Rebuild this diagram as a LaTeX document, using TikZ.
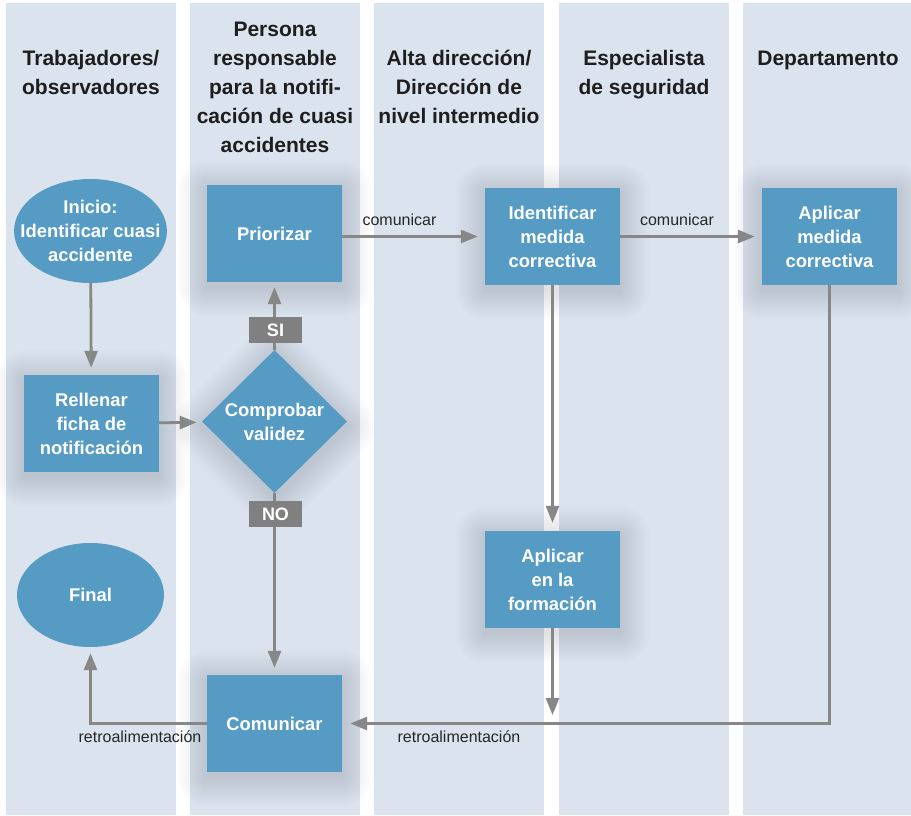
\documentclass[tikz,border=0pt]{standalone}
\usepackage{fontspec}
\setmainfont{Liberation Sans}
\usetikzlibrary{shapes.geometric,arrows.meta}
\definecolor{lanebg}{RGB}{219,228,238}
\definecolor{boxblue}{RGB}{85,155,196}
\definecolor{arrgray}{RGB}{135,135,135}
\definecolor{lblgray}{RGB}{128,128,128}
\definecolor{headtxt}{RGB}{30,30,30}
\pgfdeclarelayer{bg}
\pgfdeclarelayer{shadowlayer}
\pgfsetlayers{bg,shadowlayer,main}
\tikzset{
  lane/.style={fill=lanebg, draw=none},
  header/.style={anchor=north, inner sep=0pt, align=center, text=headtxt,
    font=\fontsize{21}{29}\selectfont\bfseries},
  shadowstep/.style={fill=black!80!blue, opacity=0.0045, draw=none},
  stepbox/.style={rectangle, fill=boxblue, text=white, minimum width=135pt,
    minimum height=97pt, inner sep=0pt, align=center,
    font=\fontsize{18.4}{24}\selectfont\bfseries},
  oval/.style={ellipse, fill=boxblue, text=white, minimum width=147pt,
    minimum height=104pt, inner xsep=-16pt, inner ysep=0pt, align=center,
    font=\fontsize{18.4}{24}\selectfont\bfseries},
  decision/.style={diamond, aspect=1, fill=boxblue, text=white, minimum width=145pt,
    minimum height=143pt, inner sep=0pt, align=center,
    font=\fontsize{18.4}{24}\selectfont\bfseries},
  answer/.style={rectangle, fill=lblgray, text=white, minimum width=53pt,
    minimum height=26pt, inner sep=0pt, font=\fontsize{18}{20}\selectfont\bfseries},
  flow/.style={draw=arrgray, line width=2.8pt, -{Triangle[length=17pt,width=13pt]},
    shorten >=7pt},
  flowlabel/.style={anchor=base, inner sep=0pt, text=black!85,
    font=\fontsize{16}{18}\selectfont},
}
\newcommand{\myboxshadow}[1]{%
  \begin{pgfonlayer}{shadowlayer}
  \foreach \r in {1,2,...,30}{
    \fill[shadowstep, rounded corners=\r pt]
      ([shift={(-\r,-\r+5)}]#1.north west) rectangle ([shift={(\r,\r+5)}]#1.south east);
  }
  \end{pgfonlayer}}
\newcommand{\mydiamondshadow}[1]{%
  \begin{pgfonlayer}{shadowlayer}
  \foreach \r in {1,2,...,30}{
    \fill[shadowstep, rounded corners=\r pt]
      ([shift={(0,-1.41*\r+5)}]#1.north) -- ([shift={(1.41*\r,5)}]#1.east)
      -- ([shift={(0,1.41*\r+5)}]#1.south) -- ([shift={(-1.41*\r,5)}]#1.west) -- cycle;
  }
  \end{pgfonlayer}}
\begin{document}
\begin{tikzpicture}[x=1pt,y=-1pt]
\useasboundingbox (0,0) rectangle (911,816);
\begin{pgfonlayer}{bg}
\fill[white] (0,0) rectangle (911,816);
\fill[lane] (6,3) rectangle (176,815);
\fill[lane] (190,3) rectangle (360,815);
\fill[lane] (374,3) rectangle (544,815);
\fill[lane] (559,3) rectangle (729,815);
\fill[lane] (743,3) rectangle (911,815);
\end{pgfonlayer}
% headers
\node[header] (h1) at (91,45.2) {\strut Trabajadores/\\observadores};
\node[header] (h2) at (275,15.7) {\strut Persona\\responsable\\para la notifi-\\cación de cuasi\\accidentes};
\node[header] (h3) at (459,45.2) {\strut Alta dirección/\\Dirección de\\nivel intermedio};
\node[header] (h4) at (644,45.2) {\strut Especialista\\de seguridad};
\node[header] (h5) at (828,45.2) {\strut Departamento};
% nodes
\node[oval] (inicio) at (90.5,231) {Inicio:\\Identificar cuasi\\accidente};
\node[stepbox] (rellenar) at (91.5,423.5) {Rellenar\\ficha de\\notificación};
\node[oval] (final) at (90.5,595) {Final};
\node[stepbox] (prior) at (274.5,233.5) {Priorizar};
\node[decision] (valid) at (274.5,421.5) {Comprobar\\validez};
\node[stepbox] (comun) at (274.5,723.5) {Comunicar};
\node[stepbox] (ident) at (552.5,236.5) {Identificar\\medida\\correctiva};
\node[stepbox] (form) at (552.5,579.5) {Aplicar\\en la\\formación};
\node[stepbox] (aplmed) at (829.5,236.5) {Aplicar\\medida\\correctiva};
\coordinate (formend) at (552.5,723);
% shadows
\myboxshadow{rellenar}
\myboxshadow{prior}
\myboxshadow{comun}
\myboxshadow{ident}
\myboxshadow{form}
\myboxshadow{aplmed}
\mydiamondshadow{valid}
% connectors
\draw[flow] (inicio) -- (rellenar);
\draw[flow, shorten >=6pt] (rellenar) -- (valid);
\draw[flow, shorten >=5pt] (valid.north) -- (prior.south);
\draw[flow] (valid.south) -- (comun.north);
\draw[flow] (prior.east |- ident.west) -- (ident.west);
\node[flowlabel] (c1) at (399.5,225) {comunicar};
\draw[flow] (ident) -- (aplmed);
\node[flowlabel] (c2) at (677,225) {comunicar};
\draw[flow, shorten >=8pt] (ident) -- (form);
\draw[flow, shorten >=8pt] (form) -- (formend);
\draw[flow, shorten >=8pt] (aplmed.south) |- (comun.east);
\node[flowlabel] (r2) at (459,742) {retroalimentación};
\draw[flow, shorten >=6pt] (comun.west) -| (final.south);
\node[flowlabel] (r1) at (140,742) {retroalimentación};
% answer labels
\node[answer] (si) at (275.5,330) {SI};
\node[answer] (no) at (275.5,514) {NO};
\end{tikzpicture}
\end{document}
